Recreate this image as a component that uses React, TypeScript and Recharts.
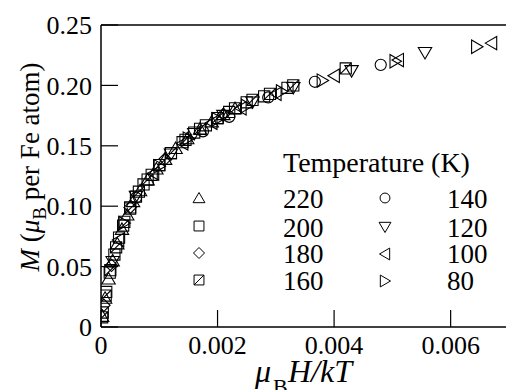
import React from "react";
import { ScatterChart, Scatter, XAxis, YAxis, ReferenceLine } from "recharts";

// Temperatures (K) and their marker kinds
const temps = ["220", "200", "180", "160", "140", "120", "100", "80"];
const kinds = ["up", "square", "diamond", "squareDiag", "circle", "down", "left", "right"];

// x = muB H / kT, y = M (muB per Fe atom)
const x220 = [0.00002, 0.00007, 0.00013, 0.0002, 0.00028, 0.00036, 0.00045, 0.00055, 0.00067, 0.0008, 0.00095, 0.0011, 0.00128, 0.00148, 0.0017, 0.0019, 0.0021, 0.0023];
const y220 = [0.009, 0.024, 0.04, 0.055, 0.069, 0.081, 0.093, 0.104, 0.113, 0.122, 0.131, 0.139, 0.148, 0.156, 0.164, 0.17, 0.176, 0.181];
const x200 = [0.00003, 0.00009, 0.00015, 0.00023, 0.00031, 0.0004, 0.0005, 0.0006, 0.00073, 0.00087, 0.001, 0.0012, 0.0014, 0.0016, 0.0018, 0.002, 0.0022, 0.0025, 0.0028, 0.0032];
const y200 = [0.012, 0.029, 0.045, 0.06, 0.074, 0.087, 0.099, 0.108, 0.118, 0.126, 0.134, 0.144, 0.153, 0.161, 0.167, 0.173, 0.178, 0.186, 0.191, 0.198];
const x180 = [0.00005, 0.00018, 0.0005, 0.0011, 0.0021];
const y180 = [0.018, 0.051, 0.099, 0.139, 0.176];
const x160 = [0.00002, 0.00008, 0.00016, 0.00026, 0.00038, 0.0005, 0.00065, 0.0008, 0.001, 0.0012, 0.00145, 0.0017, 0.002, 0.0023, 0.0026, 0.0029, 0.0033, 0.0042];
const y160 = [0.008, 0.026, 0.047, 0.066, 0.084, 0.098, 0.112, 0.122, 0.134, 0.144, 0.155, 0.164, 0.173, 0.181, 0.188, 0.193, 0.2, 0.214];
const x140 = [0.0006, 0.00175, 0.0022, 0.00287, 0.00367, 0.0048];
const y140 = [0.107, 0.162, 0.174, 0.19, 0.203, 0.217];
const x120 = [0.0002, 0.0006, 0.0012, 0.0016, 0.0021, 0.0026, 0.0033, 0.0043, 0.00556];
const y120 = [0.054, 0.108, 0.143, 0.16, 0.175, 0.186, 0.198, 0.212, 0.227];
const x100 = [0.0003, 0.0009, 0.0014, 0.0019, 0.0024, 0.003, 0.004, 0.0051, 0.0067];
const y100 = [0.072, 0.127, 0.152, 0.169, 0.181, 0.193, 0.208, 0.221, 0.235];
const x80 = [0.0004, 0.001, 0.0015, 0.002, 0.0025, 0.0031, 0.0038, 0.00505, 0.00645];
const y80 = [0.086, 0.133, 0.156, 0.172, 0.183, 0.195, 0.204, 0.22, 0.232];

const xs = [x220, x200, x180, x160, x140, x120, x100, x80];
const ys = [y220, y200, y180, y160, y140, y120, y100, y80];

const xTicks = [0, 0.002, 0.004, 0.006];
const yTicks = [0, 0.05, 0.1, 0.15, 0.2, 0.25];

const SERIF = "Liberation Serif";
const serifStyle = { fontFamily: `"${SERIF}"` };

function markerPath(kind: string, cx: number, cy: number, s: number) {
  switch (kind) {
    case "up":
      return `M${cx},${cy - s} L${cx + s * 1.08},${cy + s * 0.85} L${cx - s * 1.08},${cy + s * 0.85} Z`;
    case "down":
      return `M${cx},${cy + s} L${cx + s * 1.08},${cy - s * 0.85} L${cx - s * 1.08},${cy - s * 0.85} Z`;
    case "left":
      return `M${cx - s},${cy} L${cx + s * 0.85},${cy - s * 1.08} L${cx + s * 0.85},${cy + s * 1.08} Z`;
    case "right":
      return `M${cx + s},${cy} L${cx - s * 0.85},${cy - s * 1.08} L${cx - s * 0.85},${cy + s * 1.08} Z`;
    case "square": {
      const h = s * 0.9;
      return `M${cx - h},${cy - h} H${cx + h} V${cy + h} H${cx - h} Z`;
    }
    case "squareDiag": {
      const h = s * 0.9;
      return `M${cx - h},${cy - h} H${cx + h} V${cy + h} H${cx - h} Z M${cx - h},${cy + h} L${cx + h},${cy - h}`;
    }
    case "diamond":
      return `M${cx},${cy - s} L${cx + s},${cy} L${cx},${cy + s} L${cx - s},${cy} Z`;
    case "circle":
    default:
      return `M${cx - s * 0.9},${cy} a${s * 0.9},${s * 0.9} 0 1,0 ${s * 1.8},0 a${s * 0.9},${s * 0.9} 0 1,0 ${-s * 1.8},0`;
  }
}

const makeShape = (kind: string) => (props: any) => {
  const { cx, cy } = props;
  if (cx == null || cy == null) return <g />;
  return <path d={markerPath(kind, cx, cy, 6.2)} fill="none" stroke="#000" strokeWidth={1.1} />;
};

// Y-axis title as rotated HTML text
const YLabel = () => (
  <div
    style={{
      position: "absolute",
      left: 30 - 130,
      top: 167 - 18,
      width: 260,
      height: 36,
      lineHeight: "36px",
      textAlign: "center",
      whiteSpace: "nowrap",
      transform: "rotate(-90deg)",
      transformOrigin: "50% 50%",
      fontFamily: `"${SERIF}"`,
      fontSize: 27,
      color: "#000",
      pointerEvents: "none",
    }}
  >
    <span style={{ fontStyle: "italic" }}>M</span> (<span style={{ fontStyle: "italic" }}>μ</span>
    <span style={{ fontSize: 19, position: "relative", top: 7 }}>B</span> per Fe atom)
  </div>
);

// X-axis title
const XLabel = () => (
  <g>
    <text x={255} y={382} style={{ ...serifStyle, fontStyle: "italic" }} fontSize={32} fill="#000">μ</text>
    <text x={273} y={394} style={serifStyle} fontSize={22} fill="#000">B</text>
    <text x={288} y={382} style={{ ...serifStyle, fontStyle: "italic" }} fontSize={32} fill="#000">H/kT</text>
  </g>
);

const legendLeft = [
  { sx: 199, sy: 198, tx: 283, ty: 208 },
  { sx: 199, sy: 226, tx: 283, ty: 237 },
  { sx: 199, sy: 253, tx: 283, ty: 263 },
  { sx: 199, sy: 280, tx: 283, ty: 290 },
];
const legendRight = [
  { sx: 385, sy: 198, tx: 447, ty: 208 },
  { sx: 385, sy: 227, tx: 447, ty: 237 },
  { sx: 385, sy: 254, tx: 447, ty: 263 },
  { sx: 385, sy: 281, tx: 447, ty: 290 },
];

export default function App() {
  const series = temps.map((t, i) => ({
    name: t,
    kind: kinds[i],
    data: xs[i].map((x, j) => ({ x, y: ys[i][j] })),
  }));
  const legendPos = [...legendLeft, ...legendRight];
  return (
    <div style={{ position: "absolute", left: 0, top: 0, width: 506, height: 390, overflow: "hidden" }}>
      <ScatterChart width={506} height={390} margin={{ top: 25, right: 0, bottom: 0, left: 0 }}>
        <XAxis type="number" dataKey="x" domain={[0, 0.00695]} ticks={xTicks} interval={0} allowDataOverflow height={63}
          tickSize={-17} tickMargin={26} axisLine={{ stroke: "#000", strokeWidth: 1.5 }} tickLine={{ stroke: "#000", strokeWidth: 1.2 }}
          tick={{ fill: "#000", fontSize: 26, fontFamily: SERIF }}
          tickFormatter={(v: number) => (v === 0 ? "0" : v.toFixed(3))} />
        <YAxis type="number" dataKey="y" domain={[0, 0.25]} ticks={yTicks} interval={0} width={101}
          tickSize={-17} tickMargin={26} axisLine={{ stroke: "#000", strokeWidth: 1.5 }} tickLine={{ stroke: "#000", strokeWidth: 1.2 }}
          tick={{ fill: "#000", fontSize: 26, fontFamily: SERIF }}
          tickFormatter={(v: number) => (v === 0 ? "0" : v.toFixed(2))} />
        <ReferenceLine y={0.25} stroke="#000" strokeWidth={1.5} />
        {series.map((s) => (
          <Scatter key={s.name} name={s.name} data={s.data} shape={makeShape(s.kind)} isAnimationActive={false} />
        ))}
      </ScatterChart>
      <svg width={506} height={390} style={{ position: "absolute", left: 0, top: 0, pointerEvents: "none" }}>
        <XLabel />
        <text x={283} y={172} style={serifStyle} fontSize={28} fill="#000">Temperature (K)</text>
        {temps.map((t, i) => (
          <g key={t}>
            <path d={markerPath(kinds[i], legendPos[i].sx, legendPos[i].sy, 5.5)} fill="none" stroke="#000" strokeWidth={1} />
            <text x={legendPos[i].tx} y={legendPos[i].ty} style={serifStyle} fontSize={27} fill="#000">{t}</text>
          </g>
        ))}
      </svg>
      <YLabel />
    </div>
  );
}
